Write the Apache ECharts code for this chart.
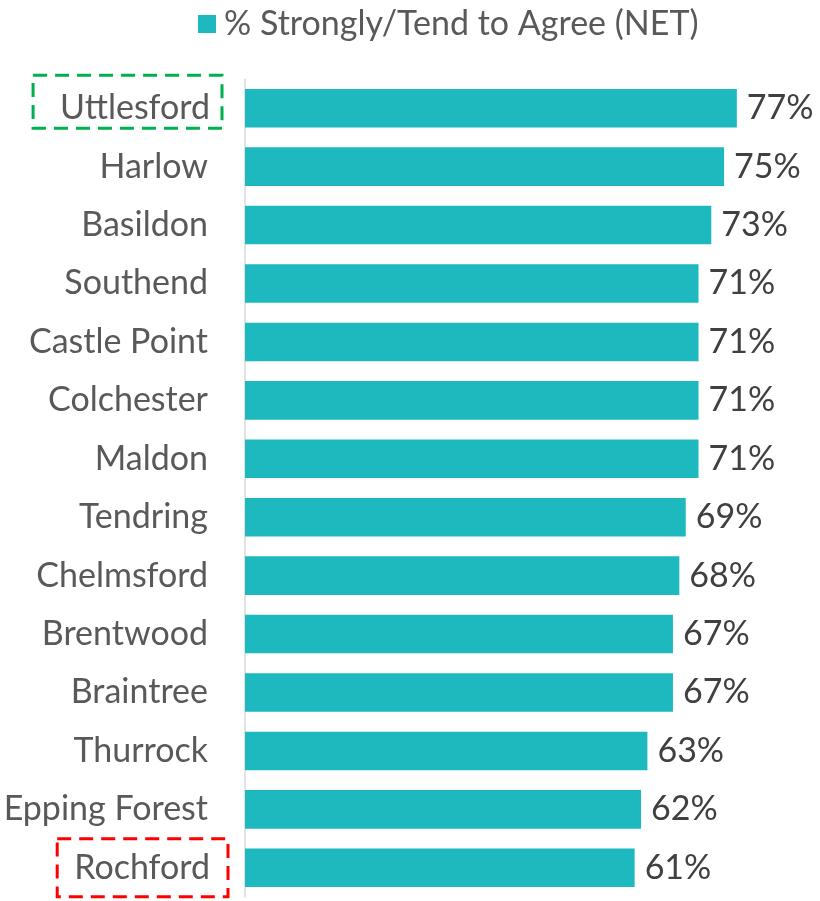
<!DOCTYPE html>
<html>
<head>
<meta charset="utf-8">
<script src="https://cdn.jsdelivr.net/npm/echarts@6/dist/echarts.min.js"></script>
<style>
  html, body { margin: 0; padding: 0; background: #fff; }
  #chart { width: 820px; height: 901px; }
</style>
</head>
<body>
<div id="chart"></div>
<script>
// 地区名称与数值
const districts = ['Uttlesford', 'Harlow', 'Basildon', 'Southend', 'Castle Point', 'Colchester', 'Maldon',
    'Tendring', 'Chelmsford', 'Brentwood', 'Braintree', 'Thurrock', 'Epping Forest', 'Rochford'];
const agreeNet = [77, 75, 73, 71, 71, 71, 71, 69, 68, 67, 67, 63, 62, 61];
const seriesName = '% Strongly/Tend to Agree (NET)';

// 需要加框的地区
const highlightTop = 'Uttlesford';
const highlightBottom = 'Rochford';

const FONT = 'Lato';
const FS = 34;
const chart = echarts.init(document.getElementById('chart'));

const option = {
    animation: false,
    textStyle: { fontFamily: FONT },
    legend: {
        data: [seriesName],
        top: 2,
        left: 193,
        itemWidth: 18,
        itemHeight: 18,
        icon: 'rect',
        textStyle: { fontSize: FS, color: '#595959', fontFamily: FONT, padding: [0, 0, 0, 3] }
    },
    grid: {
        left: 245,
        top: 79,
        width: 511,
        height: 818
    },
    xAxis: {
        type: 'value',
        min: 0,
        max: 80,
        show: false
    },
    yAxis: {
        type: 'category',
        data: districts,
        inverse: true,
        axisLine: { lineStyle: { color: '#d9d9d9', width: 1.5 } },
        axisTick: { show: false },
        axisLabel: {
            margin: 17,
            formatter: (v) => {
                if (v === highlightTop) return `{g|${v}}{s|}`;
                if (v === highlightBottom) return `{r|${v}}`;
                return `{n|${v}}`;
            },
            rich: {
                n: { fontSize: FS, color: '#595959', fontFamily: FONT, padding: [0, 20, 0, 0] },
                s: { width: 6, lineHeight: 66 },
                g: {
                    fontSize: FS, color: '#595959', fontFamily: FONT,
                    lineHeight: 34,
                    verticalAlign: 'top',
                    padding: [16, 12, 3, 27],
                    borderColor: '#00B050', borderWidth: 3, borderType: [14, 8]
                },
                r: {
                    fontSize: FS, color: '#595959', fontFamily: FONT,
                    lineHeight: 36,
                    padding: [12, 18, 12, 17],
                    borderColor: '#FF0000', borderWidth: 3, borderType: [14, 8]
                }
            }
        }
    },
    series: [{
        name: seriesName,
        type: 'bar',
        data: agreeNet,
        barCategoryGap: '34%',
        itemStyle: { color: '#1DB9BE' },
        label: {
            show: true,
            position: 'right',
            distance: 10,
            formatter: '{c}%',
            fontSize: FS,
            color: '#404040',
            fontFamily: FONT
        }
    }]
};

chart.setOption(option);
</script>
</body>
</html>
